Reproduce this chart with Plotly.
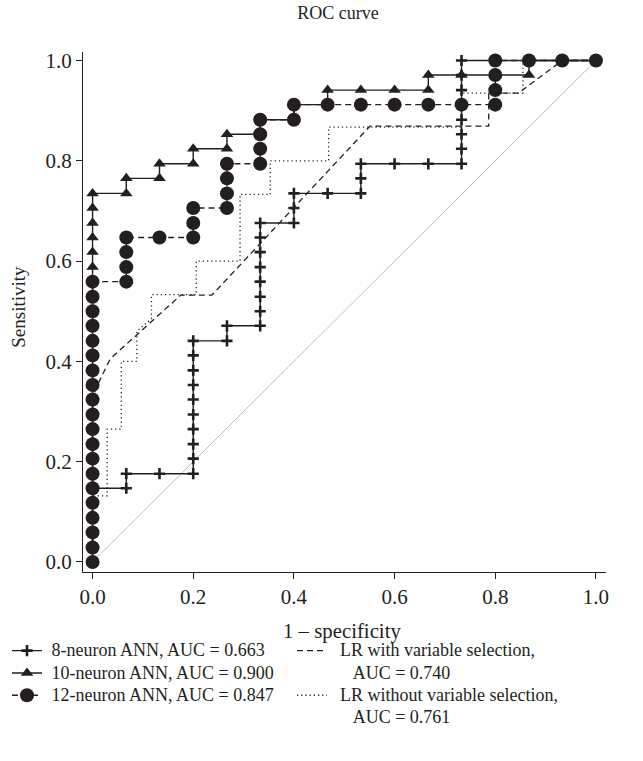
import plotly.graph_objects as go

FONT = "Liberation Serif"
INK = "#231f20"

# ---------------- data ----------------
tick_vals = [0.0, 0.2, 0.4, 0.6, 0.8, 1.0]
tick_text = ["0.0", "0.2", "0.4", "0.6", "0.8", "1.0"]

ann8_fpr = [0.0, 0.0, 0.0, 0.0, 0.0, 0.0, 0.067, 0.067, 0.133,
            0.2, 0.2, 0.2, 0.2, 0.2, 0.2, 0.2, 0.2, 0.2, 0.2, 0.267, 0.267,
            0.333, 0.333, 0.333, 0.333, 0.333, 0.333, 0.333, 0.333,
            0.4, 0.4, 0.4, 0.467, 0.533, 0.533, 0.533, 0.6, 0.667,
            0.733, 0.733, 0.733, 0.733, 0.733, 0.733, 0.733, 0.733,
            0.8, 0.867, 0.933, 1.0]
ann8_tpr = [0.0, 0.029, 0.059, 0.088, 0.118, 0.147, 0.147, 0.176, 0.176,
            0.176, 0.206, 0.235, 0.265, 0.294, 0.324, 0.353, 0.382, 0.412, 0.441, 0.441, 0.471,
            0.471, 0.5, 0.529, 0.559, 0.588, 0.618, 0.647, 0.676,
            0.676, 0.706, 0.735, 0.735, 0.735, 0.765, 0.794, 0.794, 0.794,
            0.794, 0.824, 0.853, 0.882, 0.912, 0.941, 0.971, 1.0,
            1.0, 1.0, 1.0, 1.0]

ann10_fpr = [0.0, 0.0, 0.0, 0.0, 0.0, 0.0, 0.0, 0.0, 0.0, 0.0, 0.0, 0.0, 0.0,
             0.0, 0.0, 0.0, 0.0, 0.0, 0.0, 0.0, 0.0, 0.0, 0.0, 0.0, 0.0, 0.0,
             0.067, 0.067, 0.133, 0.133, 0.2, 0.2, 0.267, 0.267, 0.333, 0.333,
             0.4, 0.4, 0.467, 0.467, 0.533, 0.6, 0.667, 0.667, 0.733, 0.8,
             0.867, 0.867, 0.933, 1.0]
ann10_tpr = [0.0, 0.029, 0.059, 0.088, 0.118, 0.147, 0.176, 0.206, 0.235, 0.265,
             0.294, 0.324, 0.353, 0.382, 0.412, 0.441, 0.471, 0.5, 0.529, 0.559,
             0.588, 0.618, 0.647, 0.676, 0.706, 0.735,
             0.735, 0.765, 0.765, 0.794, 0.794, 0.824, 0.824, 0.853, 0.853, 0.882,
             0.882, 0.912, 0.912, 0.941, 0.941, 0.941, 0.941, 0.971, 0.971, 0.971,
             0.971, 1.0, 1.0, 1.0]

ann12_fpr = [0.0, 0.0, 0.0, 0.0, 0.0, 0.0, 0.0, 0.0, 0.0, 0.0,
             0.0, 0.0, 0.0, 0.0, 0.0, 0.0, 0.0, 0.0, 0.0, 0.0,
             0.067, 0.067, 0.067, 0.067, 0.133, 0.2, 0.2, 0.2,
             0.267, 0.267, 0.267, 0.267, 0.333, 0.333, 0.333, 0.333,
             0.4, 0.4, 0.467, 0.533, 0.6, 0.667, 0.733,
             0.8, 0.8, 0.8, 0.8, 0.867, 0.933, 1.0]
ann12_tpr = [0.0, 0.029, 0.059, 0.088, 0.118, 0.147, 0.176, 0.206, 0.235, 0.265,
             0.294, 0.324, 0.353, 0.382, 0.412, 0.441, 0.471, 0.5, 0.529, 0.559,
             0.559, 0.588, 0.618, 0.647, 0.647, 0.647, 0.676, 0.706,
             0.706, 0.735, 0.765, 0.794, 0.794, 0.824, 0.853, 0.882,
             0.882, 0.912, 0.912, 0.912, 0.912, 0.912, 0.912,
             0.912, 0.941, 0.971, 1.0, 1.0, 1.0, 1.0]

lr_sel_fpr = [0.0, 0.0, 0.006, 0.035, 0.175, 0.237, 0.551, 0.787, 0.787, 0.846, 0.933, 1.0]
lr_sel_tpr = [0.0, 0.324, 0.345, 0.405, 0.532, 0.532, 0.869, 0.869, 0.935, 0.935, 1.0, 1.0]

lr_all_fpr = [0.0, 0.0, 0.029, 0.029, 0.057, 0.057, 0.088, 0.088, 0.117, 0.117,
              0.206, 0.206, 0.293, 0.293, 0.353, 0.353, 0.469, 0.469, 0.733, 0.733,
              0.855, 0.855, 1.0]
lr_all_tpr = [0.0, 0.132, 0.132, 0.265, 0.265, 0.4, 0.4, 0.46, 0.485, 0.533,
              0.533, 0.6, 0.6, 0.733, 0.733, 0.8, 0.8, 0.867, 0.867, 0.935,
              0.935, 1.0, 1.0]

diag_x = [0.0, 1.0]
diag_y = [0.0, 1.0]

names_left = ["8-neuron ANN, AUC = 0.663", "10-neuron ANN, AUC = 0.900",
              "12-neuron ANN, AUC = 0.847"]
names_right = ["LR with variable selection,", "AUC = 0.740",
               "LR without variable selection,", "AUC = 0.761"]

# ---------------- layout geometry ----------------
W, H = 643, 761
ML, MR, MT, MB = 83, 37, 52, 189
PW, PH = W - ML - MR, H - MT - MB


def px_x(page_x):
    return (page_x - ML) / PW


def px_y(page_y):
    return (H - MB - page_y) / PH


LEG_SIZE = 18


def lab(t, lead="\u2005"):
    return '<span style="font-size:%gpx">%s%s</span>' % (LEG_SIZE, lead, t)


fig = go.Figure()

fig.add_trace(go.Scatter(x=diag_x, y=diag_y, mode="lines",
                         line=dict(color="#bdbdbd", width=1),
                         showlegend=False, hoverinfo="skip"))

# LR curves (legend 2)
fig.add_trace(go.Scatter(x=lr_sel_fpr, y=lr_sel_tpr, mode="lines",
                         line=dict(color=INK, width=1.3, dash="6px,4px"),
                         name=lab(names_right[0], "\u2005\u2009"), legend="legend2"))
fig.add_trace(go.Scatter(x=[None], y=[None], mode="lines",
                         line=dict(color="rgba(0,0,0,0)", width=0),
                         name=lab(names_right[1], "\u2005\u2009\u2002\u2009"), legend="legend2"))
fig.add_trace(go.Scatter(x=lr_all_fpr, y=lr_all_tpr, mode="lines",
                         line=dict(color=INK, width=1.3, dash="1.2px,3px"),
                         name=lab(names_right[2], "\u2005\u2009"), legend="legend2"))
fig.add_trace(go.Scatter(x=[None], y=[None], mode="lines",
                         line=dict(color="rgba(0,0,0,0)", width=0),
                         name=lab(names_right[3], "\u2005\u2009\u2002\u2009"), legend="legend2"))

# ANN curves (legend 1)
fig.add_trace(go.Scatter(x=ann8_fpr, y=ann8_tpr, mode="lines+markers",
                         line=dict(color=INK, width=1.4),
                         marker=dict(symbol="cross-thin", size=8, color=INK,
                                     line=dict(color=INK, width=2.6)),
                         name=lab(names_left[0]), legend="legend"))
fig.add_trace(go.Scatter(x=ann10_fpr, y=ann10_tpr, mode="lines+markers",
                         line=dict(color=INK, width=1.4),
                         marker=dict(symbol="triangle-up", size=11, color=INK),
                         name=lab(names_left[1]), legend="legend"))
fig.add_trace(go.Scatter(x=ann12_fpr, y=ann12_tpr, mode="lines+markers",
                         line=dict(color=INK, width=1.4, dash="6px,4px"),
                         marker=dict(symbol="circle", size=14, color=INK),
                         name=lab(names_left[2]), legend="legend"))

axis_common = dict(showline=True, linecolor=INK, linewidth=1.3, mirror=False,
                   ticks="outside", ticklen=6, tickwidth=1.3, tickcolor=INK,
                   tickvals=tick_vals, ticktext=tick_text, showgrid=False,
                   zeroline=False, tickfont=dict(family=FONT, size=21, color=INK))

legend_common = dict(yanchor="top", xanchor="left", orientation="v",
                     font=dict(family=FONT, size=14.85, color=INK),
                     bgcolor="rgba(0,0,0,0)", borderwidth=0, tracegroupgap=0,
                     itemwidth=30)

fig.update_layout(
    width=W, height=H,
    margin=dict(l=ML, r=MR, t=MT, b=MB, autoexpand=False),
    paper_bgcolor="white", plot_bgcolor="white",
    font=dict(family=FONT, size=18, color=INK),
    xaxis=dict(range=[-0.019, 1.02], **axis_common),
    yaxis=dict(range=[-0.02, 1.017], **axis_common),
    title=dict(text="ROC curve", x=338 / W, xref="container", xanchor="center",
               y=1 - 13 / H, yref="container", yanchor="middle",
               font=dict(family=FONT, size=18, color=INK)),
    legend=dict(x=px_x(7), y=px_y(634.5), **legend_common),
    legend2=dict(x=px_x(292), y=px_y(634.5), **legend_common),
    annotations=[
        dict(text="1 \u2013 specificity", xref="paper", yref="paper",
             x=px_x(342), y=px_y(631), xanchor="center", yanchor="middle",
             showarrow=False, font=dict(family=FONT, size=20.8, color=INK)),
        dict(text="Sensitivity", xref="paper", yref="paper",
             x=px_x(19), y=px_y(306.7), xanchor="center", yanchor="middle",
             textangle=-90, showarrow=False, font=dict(family=FONT, size=19, color=INK)),
    ],
)

fig.write_html("out.html", config={"displayModeBar": False},
               post_script="document.body.style.margin='0px';")
